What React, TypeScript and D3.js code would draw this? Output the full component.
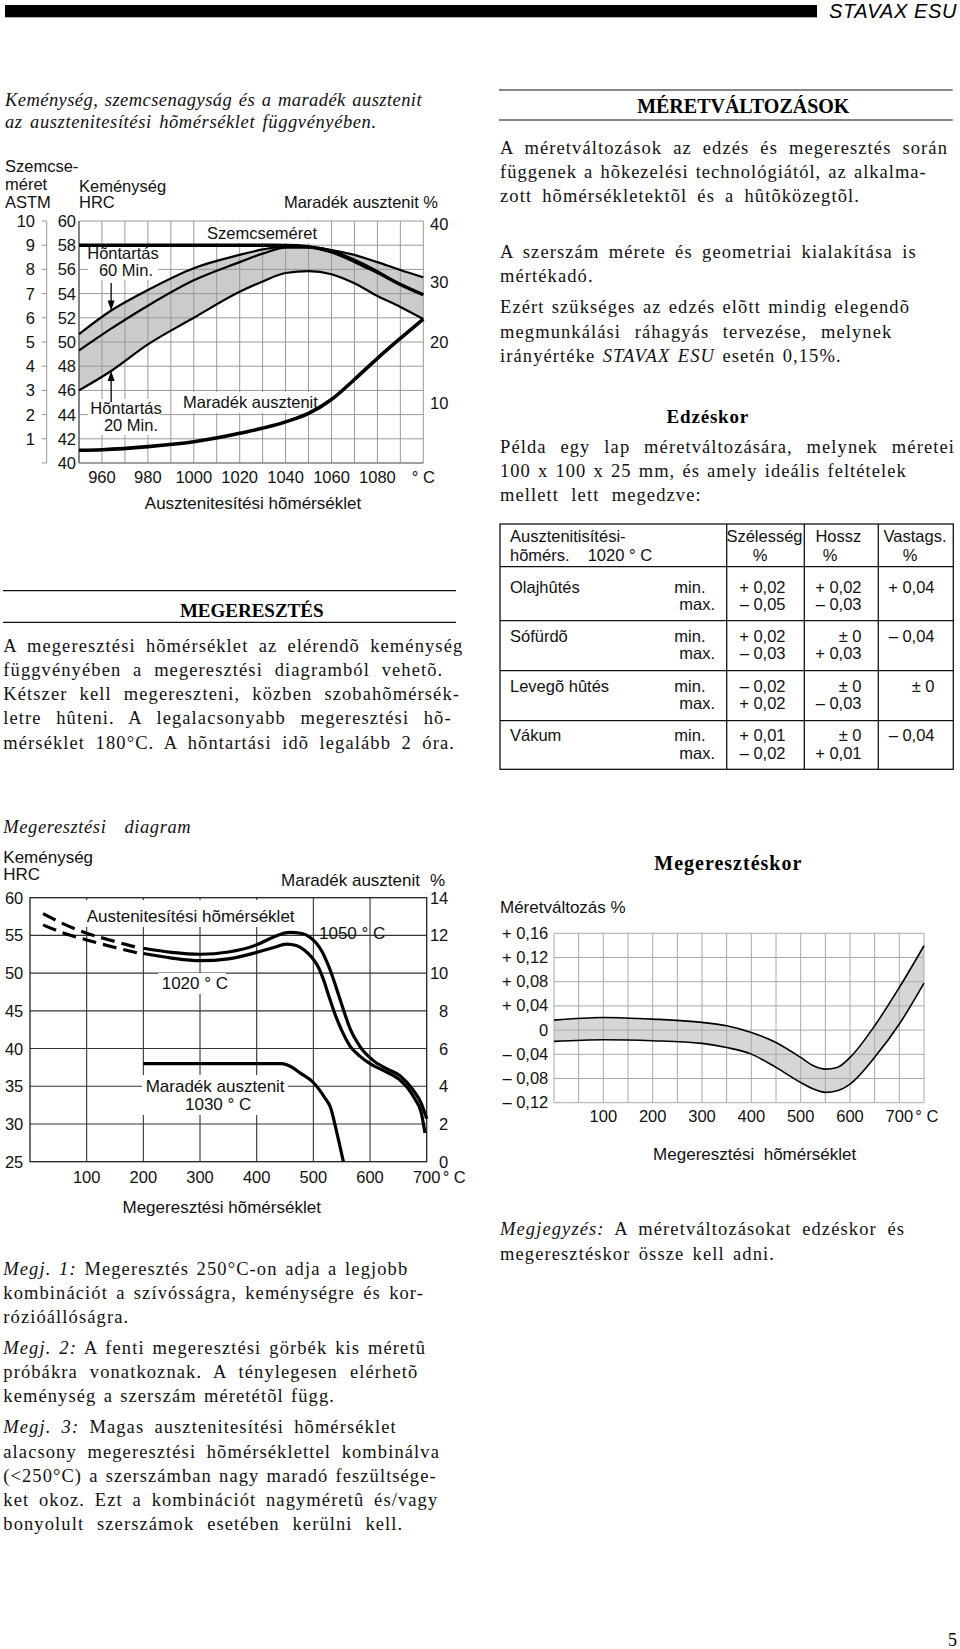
import React, { useLayoutEffect, useRef } from 'react';
import * as d3 from 'd3';

const SERIF = '"Liberation Serif", "Times New Roman", Times, serif';
const SANS = '"Liberation Sans", Arial, Helvetica, sans-serif';

// ---------- Chart 1: hardness / grain size / retained austenite vs austenitizing temp ----------
const austTempTicks = [960, 980, 1000, 1020, 1040, 1060, 1080];
const hrcTicks1 = [40, 42, 44, 46, 48, 50, 52, 54, 56, 58, 60];
const astmTicks = [0, 1, 2, 3, 4, 5, 6, 7, 8, 9, 10];
const raTicks1 = [10, 20, 30, 40];
const austTemps = [950, 964, 980, 1000, 1020, 1030, 1040, 1050, 1060, 1070, 1080, 1090, 1100];
const hrc60Min = [50.65, 52.6, 54.3, 56.1, 57.2, 57.65, 57.9, 57.85, 57.6, 57.2, 56.6, 55.95, 55.35];
const hrcMid = [49.3, 51.1, 53.0, 55.1, 56.6, 57.3, 57.8, 57.8, 57.4, 56.6, 55.7, 54.8, 53.9];
const hrc20Min = [46.0, 47.6, 49.8, 52.0, 54.15, 55.0, 55.7, 55.85, 55.6, 54.85, 53.8, 52.9, 51.9];
const grainTemps = [950, 1000, 1035, 1045, 1060, 1075, 1090, 1100];
const grainHRC = [58, 58, 58, 57.95, 57.5, 56.3, 54.75, 53.9];
const raTemps1 = [950, 960, 980, 1000, 1020, 1040, 1050, 1060, 1070, 1080, 1090, 1100];
const raPct1 = [2.1, 2.2, 2.7, 3.5, 4.9, 6.8, 8.2, 10.5, 13.8, 17.3, 20.6, 23.8];
const arrowTemp = 964;

// ---------- Chart 2: tempering diagram ----------
const temperTicks = [100, 200, 300, 400, 500, 600, 700];
const hrcTicks2 = [25, 30, 35, 40, 45, 50, 55, 60];
const raTicks2 = [0, 2, 4, 6, 8, 10, 12, 14];
const dashTemps = [23, 60, 100, 150, 194];
const dash1050 = [57.9, 56.5, 55.3, 54.2, 53.3];
const dash1020 = [56.4, 55.3, 54.4, 53.4, 52.6];
const temps1050 = [200, 250, 300, 350, 400, 430, 458, 480, 495, 505, 515, 525, 535, 545, 555, 565, 582, 606, 630, 653, 676, 690, 700];
const hrc1050 = [53.3, 52.75, 52.5, 52.8, 53.75, 54.8, 55.4, 55.25, 54.7, 54.0, 52.9, 51.3, 49.3, 47.0, 44.7, 42.6, 40.3, 38.4, 37.3, 36.4, 34.5, 32.8, 30.7];
const temps1020 = [200, 250, 300, 350, 400, 430, 453, 470, 485, 497, 508, 518, 528, 538, 550, 565, 582, 600, 623, 650, 665, 680, 690, 697];
const hrc1020 = [52.6, 52.0, 51.65, 51.9, 52.75, 53.4, 53.85, 53.65, 53.0, 52.1, 50.9, 49.1, 46.8, 44.6, 42.4, 40.3, 39.0, 38.0, 37.1, 36.0, 34.9, 33.2, 31.6, 28.8];
const raTemps1030 = [200, 300, 400, 444, 460, 477, 500, 520, 530, 541, 553];
const raPct1030 = [5.2, 5.2, 5.2, 5.2, 5.05, 4.7, 4.2, 3.4, 2.9, 1.6, 0];

// ---------- Chart 3: dimensional change on tempering ----------
const sizeTempTicks = [100, 200, 300, 400, 500, 600, 700];
const sizeTicks = [0.16, 0.12, 0.08, 0.04, 0, -0.04, -0.08, -0.12];
const sizeTickLabels = ['+ 0,16', '+ 0,12', '+ 0,08', '+ 0,04', '0', '– 0,04', '– 0,08', '– 0,12'];
const sizeTemps = [0, 100, 200, 300, 350, 400, 450, 500, 526, 550, 574, 600, 650, 700, 750];
const sizeMax = [0.0165, 0.0209, 0.0182, 0.0127, 0.0072, -0.0039, -0.0204, -0.0452, -0.059, -0.0645, -0.0617, -0.0452, 0.0072, 0.0705, 0.1394];
const sizeMin = [-0.0187, -0.016, -0.0176, -0.022, -0.0287, -0.0397, -0.0617, -0.0865, -0.0975, -0.103, -0.1003, -0.0893, -0.045, 0.01, 0.0777];

// ---------- Table ----------
const coolingMedia = ['Olajhûtés', 'Sófürdõ', 'Levegõ hûtés', 'Vákum'];
const widthMin = ['+ 0,02', '+ 0,02', '– 0,02', '+ 0,01'];
const widthMax = ['– 0,05', '– 0,03', '+ 0,02', '– 0,02'];
const lengthMin = ['+ 0,02', '± 0', '± 0', '± 0'];
const lengthMax = ['– 0,03', '+ 0,03', '– 0,03', '+ 0,01'];
const thicknessVal = ['+ 0,04', '– 0,04', '± 0', '– 0,04'];

const zip = (a: number[], b: number[]) => a.map((v, i) => [v, b[i]] as [number, number]);

// scales
const x1 = d3.scaleLinear().domain([950, 1100]).range([79, 423.3]);
const y1 = d3.scaleLinear().domain([40, 60]).range([463, 221]);
const r1 = d3.scaleLinear().domain([0, 40]).range([463, 221]);

const x2 = d3.scaleLinear().domain([0, 700]).range([30, 426.7]);
const y2 = d3.scaleLinear().domain([25, 60]).range([1161.7, 897.7]);
const r2 = d3.scaleLinear().domain([0, 14]).range([1161.7, 897.7]);

const x3 = d3.scaleLinear().domain([0, 750]).range([554, 924]);
const y3 = d3.scaleLinear().domain([-0.12, 0.16]).range([1102.7, 933.3]);

const BODY_LS = 1.1;

function J({ x, y, w, italic, children }: { x: number; y: number; w?: number; italic?: boolean; children: React.ReactNode }) {
  const ls = italic ? 0.6 : BODY_LS;
  return (
    <text x={x} y={y} data-w={w} data-ls={ls}
      style={{ fontFamily: SERIF, fontSize: 18.5, letterSpacing: ls, fontStyle: italic ? 'italic' : 'normal' }} fill="#111">
      {children}
    </text>
  );
}

function S({ x, y, anchor = 'start', size = 16.5, children }: { x: number; y: number; anchor?: string; size?: number; children: React.ReactNode }) {
  return (
    <text x={x} y={y} textAnchor={anchor as any} style={{ fontFamily: SANS, fontSize: size }} fill="#111">
      {children}
    </text>
  );
}

function Chart1() {
  const line = d3.line<[number, number]>().x(d => x1(d[0])).y(d => y1(d[1])).curve(d3.curveMonotoneX);
  const raLine = d3.line<[number, number]>().x(d => x1(d[0])).y(d => r1(d[1])).curve(d3.curveMonotoneX);
  const band = d3.area<number>()
    .x((_, i) => x1(austTemps[i]))
    .y0((_, i) => y1(hrc20Min[i]))
    .y1((_, i) => y1(hrc60Min[i]))
    .curve(d3.curveMonotoneX);
  const vGrid = d3.range(950, 1101, 10);
  const ax = x1(arrowTemp);
  const tipTop = y1(hrc60Min[austTemps.indexOf(arrowTemp)]);
  const tipBot = y1(hrc20Min[austTemps.indexOf(arrowTemp)]);
  return (
    <g>
      <path d={band(austTemps) || ''} fill="#cbcbcb" />
      {vGrid.map(t => (
        <line key={'v' + t} x1={x1(t)} x2={x1(t)} y1={y1(60)} y2={y1(40)} stroke="#999" strokeWidth={1} />
      ))}
      {hrcTicks1.map(h => (
        <line key={'h' + h} x1={x1(950)} x2={x1(1100)} y1={y1(h)} y2={y1(h)} stroke="#999" strokeWidth={1} />
      ))}
      <line x1={x1(950)} x2={x1(950)} y1={y1(60)} y2={y1(40)} stroke="#555" strokeWidth={1.2} />
      <line x1={x1(950)} x2={x1(1100)} y1={y1(40)} y2={y1(40)} stroke="#777" strokeWidth={1.2} />
      {/* label masks */}
      <rect x={208} y={222} width={108} height={21} fill="#fff" />
      <rect x={88} y={247} width={70} height={33} fill="#fff" />
      <rect x={88} y={399} width={72} height={36} fill="#fff" />
      <rect x={178} y={392} width={132} height={21} fill="#fff" />
      {/* ASTM axis */}
      <line x1={46.7} x2={46.7} y1={y1(60)} y2={y1(40)} stroke="#999" strokeWidth={1} />
      {astmTicks.map(a => (
        <line key={'a' + a} x1={41.5} x2={46.7} y1={y1(40 + 2 * a)} y2={y1(40 + 2 * a)} stroke="#999" strokeWidth={1} />
      ))}
      {astmTicks.filter(a => a > 0).map(a => (
        <S key={'al' + a} x={35} y={y1(40 + 2 * a) + 6} anchor="end">{a}</S>
      ))}
      {hrcTicks1.map(h => (
        <S key={'hl' + h} x={76} y={y1(h) + 6} anchor="end">{h}</S>
      ))}
      {raTicks1.map(r => (
        <S key={'rl' + r} x={430} y={r1(r) + (r === 40 ? 9 : 6)}>{r}</S>
      ))}
      {austTempTicks.map(t => (
        <S key={'xl' + t} x={x1(t)} y={483.3} anchor="middle">{t}</S>
      ))}
      <S x={x1(1100)} y={483.3} anchor="middle">° C</S>
      <S x={253} y={509} anchor="middle" size={17}>Ausztenitesítési hõmérséklet</S>

      {/* curves */}
      <path d={line(zip(austTemps, hrc20Min)) || ''} fill="none" stroke="#000" strokeWidth={2.2} />
      <path d={line(zip(austTemps, hrcMid)) || ''} fill="none" stroke="#000" strokeWidth={2.2} />
      <path d={line(zip(austTemps, hrc60Min)) || ''} fill="none" stroke="#000" strokeWidth={2.2} />
      <path d={line(zip(grainTemps, grainHRC)) || ''} fill="none" stroke="#000" strokeWidth={3.4} />
      <path d={raLine(zip(raTemps1, raPct1)) || ''} fill="none" stroke="#000" strokeWidth={3.6} />

      {/* arrows */}
      <line x1={ax} x2={ax} y1={283} y2={tipTop - 8} stroke="#000" strokeWidth={1.3} />
      <path d={`M${ax},${tipTop} L${ax - 3.5},${tipTop - 10} L${ax + 3.5},${tipTop - 10} Z`} fill="#000" />
      <line x1={ax} x2={ax} y1={402} y2={tipBot + 8} stroke="#000" strokeWidth={1.3} />
      <path d={`M${ax},${tipBot} L${ax - 3.5},${tipBot + 10} L${ax + 3.5},${tipBot + 10} Z`} fill="#000" />

      {/* labels */}
      <S x={5} y={171.7}>Szemcse-</S>
      <S x={5} y={190}>méret</S>
      <S x={5} y={208}>ASTM</S>
      <S x={79} y={191.7}>Keménység</S>
      <S x={79} y={208}>HRC</S>
      <S x={438} y={208} anchor="end">Maradék ausztenit %</S>
      <S x={262} y={239} anchor="middle">Szemcseméret</S>
      <S x={123} y={259.3} anchor="middle">Hõntartás</S>
      <S x={126} y={276} anchor="middle">60 Min.</S>
      <S x={126} y={414} anchor="middle">Hõntartás</S>
      <S x={131} y={430.5} anchor="middle">20 Min.</S>
      <S x={183} y={407.7}>Maradék ausztenit</S>
    </g>
  );
}

function Chart2() {
  const line = d3.line<[number, number]>().x(d => x2(d[0])).y(d => y2(d[1])).curve(d3.curveMonotoneX);
  const raLine = d3.line<[number, number]>().x(d => x2(d[0])).y(d => r2(d[1])).curve(d3.curveMonotoneX);
  return (
    <g>
      {temperTicks.slice(0, 6).map(t => (
        <line key={'v' + t} x1={x2(t)} x2={x2(t)} y1={y2(60)} y2={y2(25)} stroke="#333" strokeWidth={1.1} />
      ))}
      {hrcTicks2.slice(1, 7).map(h => (
        <line key={'h' + h} x1={x2(0)} x2={x2(700)} y1={y2(h)} y2={y2(h)} stroke="#333" strokeWidth={1.1} />
      ))}
      <rect x={x2(0)} y={y2(60)} width={x2(700) - x2(0)} height={y2(25) - y2(60)} fill="none" stroke="#222" strokeWidth={1.3} />
      <rect x={83} y={900} width={216} height={27} fill="#fff" />
      <rect x={158} y={973} width={68} height={21} fill="#fff" />
      <rect x={142} y={1075} width={146} height={40} fill="#fff" />

      {hrcTicks2.map(h => (
        <S key={'hl' + h} x={23.3} y={y2(h) + 6} anchor="end">{h}</S>
      ))}
      {raTicks2.map(r => (
        <S key={'rl' + r} x={448.3} y={r2(r) + 6} anchor="end">{r}</S>
      ))}
      {temperTicks.map(t => (
        <S key={'xl' + t} x={x2(t)} y={1183.3} anchor="middle">{t}</S>
      ))}
      <S x={x2(700) + 16} y={1183.3}>° C</S>
      <S x={221.7} y={1213.3} anchor="middle" size={17}>Megeresztési hõmérséklet</S>
      <S x={3.3} y={862.7} size={17}>Keménység</S>
      <S x={3.3} y={880} size={17}>HRC</S>
      <S x={420} y={886} anchor="end" size={17}>Maradék ausztenit</S>
      <S x={430} y={886} size={17}>%</S>

      <path d={line(zip(dashTemps, dash1050)) || ''} fill="none" stroke="#000" strokeWidth={3.2} strokeDasharray="14 7" />
      <path d={line(zip(dashTemps, dash1020)) || ''} fill="none" stroke="#000" strokeWidth={3.2} strokeDasharray="14 7" />
      <path d={line(zip(temps1050, hrc1050)) || ''} fill="none" stroke="#000" strokeWidth={3.2} />
      <path d={line(zip(temps1020, hrc1020)) || ''} fill="none" stroke="#000" strokeWidth={3.2} />
      <path d={raLine(zip(raTemps1030, raPct1030)) || ''} fill="none" stroke="#000" strokeWidth={3.2} />

      <S x={86.7} y={921.7} size={17}>Austenitesítési hõmérséklet</S>
      <S x={319} y={939.3} size={17}>1050 ° C</S>
      <S x={161.7} y={989.3} size={17}>1020 ° C</S>
      <S x={145.7} y={1091.7} size={17}>Maradék ausztenit</S>
      <S x={185} y={1110} size={17}>1030 ° C</S>
    </g>
  );
}

function Chart3() {
  const band = d3.area<number>()
    .x((_, i) => x3(sizeTemps[i]))
    .y0((_, i) => y3(sizeMin[i]))
    .y1((_, i) => y3(sizeMax[i]))
    .curve(d3.curveMonotoneX);
  const line = d3.line<[number, number]>().x(d => x3(d[0])).y(d => y3(d[1])).curve(d3.curveMonotoneX);
  const vGrid = d3.range(0, 751, 50);
  return (
    <g>
      <text x={728.3} y={870} textAnchor="middle" style={{ fontFamily: SERIF, fontSize: 20, fontWeight: 'bold', letterSpacing: 1 }}>Megeresztéskor</text>
      <S x={500} y={912.7} size={17}>Méretváltozás %</S>
      <path d={band(sizeTemps) || ''} fill="#d6d6d6" />
      {vGrid.map(t => (
        <line key={'v' + t} x1={x3(t)} x2={x3(t)} y1={y3(0.16)} y2={y3(-0.12)} stroke="#aaa" strokeWidth={1} />
      ))}
      {sizeTicks.map(v => (
        <line key={'h' + v} x1={x3(0)} x2={x3(750)} y1={y3(v)} y2={y3(v)} stroke="#aaa" strokeWidth={1} />
      ))}
      <path d={line(zip(sizeTemps, sizeMax)) || ''} fill="none" stroke="#000" strokeWidth={1.6} />
      <path d={line(zip(sizeTemps, sizeMin)) || ''} fill="none" stroke="#000" strokeWidth={1.6} />
      {sizeTicks.map((v, i) => (
        <S key={'yl' + i} x={548.3} y={y3(v) + 5.5} anchor="end" size={16.5}>{sizeTickLabels[i]}</S>
      ))}
      {sizeTempTicks.map(t => (
        <S key={'xl' + t} x={x3(t)} y={1121.7} anchor="middle">{t}</S>
      ))}
      <S x={x3(700) + 16} y={1121.7}>° C</S>
      <S x={754.7} y={1160} anchor="middle" size={17}>Megeresztési{'\u00a0\u00a0'}hõmérséklet</S>
    </g>
  );
}

function Table() {
  const colX = [500, 726.7, 804.3, 878.3, 953.3];
  const rowY = [524, 566.7, 620.7, 670.7, 720.7, 769.3];
  const base = [592.7, 641.7, 691.7, 741];
  const sz = 16.5;
  return (
    <g>
      <rect x={colX[0]} y={rowY[0]} width={colX[4] - colX[0]} height={rowY[5] - rowY[0]} fill="none" stroke="#111" strokeWidth={1.3} />
      {colX.slice(1, 4).map((x, i) => (
        <line key={'c' + i} x1={x} x2={x} y1={rowY[0]} y2={rowY[5]} stroke="#111" strokeWidth={1.3} />
      ))}
      {rowY.slice(1, 5).map((y, i) => (
        <line key={'r' + i} x1={colX[0]} x2={colX[4]} y1={y} y2={y} stroke="#111" strokeWidth={1.3} />
      ))}
      <S x={510} y={541.7} size={sz}>Ausztenitisítési-</S>
      <S x={510} y={561} size={sz}>hõmérs.</S>
      <S x={587.7} y={561} size={sz}>1020 ° C</S>
      <S x={764.5} y={541.7} anchor="middle" size={sz}>Szélesség</S>
      <S x={760} y={561} anchor="middle" size={sz}>%</S>
      <S x={838.3} y={541.7} anchor="middle" size={sz}>Hossz</S>
      <S x={830} y={561} anchor="middle" size={sz}>%</S>
      <S x={915} y={541.7} anchor="middle" size={sz}>Vastags.</S>
      <S x={910} y={561} anchor="middle" size={sz}>%</S>
      {coolingMedia.map((m, i) => (
        <g key={m}>
          <S x={510} y={base[i]} size={sz}>{m}</S>
          <S x={674.3} y={base[i]} size={sz}>min.</S>
          <S x={715} y={base[i] + 17.5} anchor="end" size={sz}>max.</S>
          <S x={785.5} y={base[i]} anchor="end" size={sz}>{widthMin[i]}</S>
          <S x={785.5} y={base[i] + 17.5} anchor="end" size={sz}>{widthMax[i]}</S>
          <S x={861.5} y={base[i]} anchor="end" size={sz}>{lengthMin[i]}</S>
          <S x={861.5} y={base[i] + 17.5} anchor="end" size={sz}>{lengthMax[i]}</S>
          <S x={934.5} y={base[i]} anchor="end" size={sz}>{thicknessVal[i]}</S>
        </g>
      ))}
    </g>
  );
}

export default function App() {
  const ref = useRef<SVGSVGElement>(null);
  useLayoutEffect(() => {
    const svg = ref.current;
    if (!svg) return;
    svg.querySelectorAll<SVGTextElement>('text[data-w]').forEach(el => {
      const target = parseFloat(el.getAttribute('data-w') || '0');
      const ls = parseFloat(el.getAttribute('data-ls') || '0');
      const txt = el.textContent || '';
      const n = (txt.match(/ /g) || []).length;
      el.style.wordSpacing = '0px';
      el.style.letterSpacing = `${ls}px`;
      const w = el.getComputedTextLength();
      if (!(n > 0 && target > 0)) return;
      let ws = (target - w) / n;
      const minWs = 1.5;
      if (ws < minWs) {
        const delta = (target - w - minWs * n) / txt.length;
        el.style.letterSpacing = `${ls + delta}px`;
        const w2 = el.getComputedTextLength();
        ws = (target - w2) / n;
      }
      el.style.wordSpacing = `${ws}px`;
    });
  }, []);

  const lh = 24.2;
  return (
    <svg ref={ref} width={960} height={1649} viewBox="0 0 960 1649"
      style={{ position: 'absolute', left: 0, top: 0, display: 'block', background: '#fff' }}>
      <rect x={0} y={0} width={960} height={1649} fill="#fff" />
      {/* header */}
      <rect x={5} y={5} width={812} height={12.3} fill="#000" />
      <text x={957} y={18} textAnchor="end" style={{ fontFamily: SANS, fontSize: 20, fontStyle: 'italic', letterSpacing: 0.6 }}>STAVAX ESU</text>

      {/* left title */}
      <J x={5} y={106} w={417} italic>Keménység, szemcsenagyság és a maradék ausztenit</J>
      <J x={5} y={128.3} w={371.7} italic>az ausztenitesítési hõmérséklet függvényében.</J>

      <Chart1 />

      {/* right column text */}
      <line x1={499} x2={952.7} y1={90} y2={90} stroke="#111" strokeWidth={1.2} />
      <text x={743.3} y={113.3} textAnchor="middle" style={{ fontFamily: SERIF, fontSize: 20, fontWeight: 'bold' }}>MÉRETVÁLTOZÁSOK</text>
      <line x1={499} x2={952.7} y1={120} y2={120} stroke="#111" strokeWidth={1.2} />
      <J x={500} y={154} w={448}>A méretváltozások az edzés és megeresztés során</J>
      <J x={500} y={154 + lh} w={426.7}>függenek a hõkezelési technológiától, az alkalma-</J>
      <J x={500} y={154 + 2 * lh} w={360}>zott hõmérsékletektõl és a hûtõközegtõl.</J>
      <J x={500} y={258.3} w={416.7}>A szerszám mérete és geometriai kialakítása is</J>
      <J x={500} y={258.3 + 23.4}>mértékadó.</J>
      <J x={500} y={313.3} w={410}>Ezért szükséges az edzés elõtt mindig elegendõ</J>
      <J x={500} y={313.3 + lh} w={392.3}>megmunkálási ráhagyás tervezése, melynek</J>
      <J x={500} y={313.3 + 2 * lh} w={341.7}>irányértéke <tspan fontStyle="italic">STAVAX ESU</tspan> esetén 0,15%.</J>

      <text x={707.8} y={423.3} textAnchor="middle" style={{ fontFamily: SERIF, fontSize: 19, fontWeight: 'bold', letterSpacing: 0.8 }}>Edzéskor</text>
      <J x={500} y={453.3} w={455}>Példa egy lap méretváltozására, melynek méretei</J>
      <J x={500} y={453.3 + 24} w={406.7}>100 x 100 x 25 mm, és amely ideális feltételek</J>
      <J x={500} y={453.3 + 48} w={201.7}>mellett lett megedzve:</J>

      <Table />

      {/* MEGERESZTÉS */}
      <line x1={3} x2={456} y1={590.7} y2={590.7} stroke="#111" strokeWidth={1.2} />
      <text x={251.7} y={616.7} textAnchor="middle" style={{ fontFamily: SERIF, fontSize: 19, fontWeight: 'bold' }}>MEGERESZTÉS</text>
      <line x1={3} x2={456} y1={622.3} y2={622.3} stroke="#111" strokeWidth={1.2} />
      <J x={3.3} y={651.7} w={460}>A megeresztési hõmérséklet az elérendõ keménység</J>
      <J x={3.3} y={651.7 + lh} w={440}>függvényében a megeresztési diagramból vehetõ.</J>
      <J x={3.3} y={651.7 + 2 * lh} w={456.7}>Kétszer kell megereszteni, közben szobahõmérsék-</J>
      <J x={3.3} y={651.7 + 3 * lh} w={448.4}>letre hûteni. A legalacsonyabb megeresztési hõ-</J>
      <J x={3.3} y={651.7 + 4 * lh} w={451.7}>mérséklet 180°C. A hõntartási idõ legalább 2 óra.</J>

      {/* tempering diagram */}
      <J x={3.3} y={833.3} w={188} italic>Megeresztési diagram</J>
      <Chart2 />

      {/* notes */}
      <J x={3.3} y={1275} w={405}><tspan fontStyle="italic">Megj. 1:</tspan> Megeresztés 250°C-on adja a legjobb</J>
      <J x={3.3} y={1275 + lh} w={420.7}>kombinációt a szívósságra, keménységre és kor-</J>
      <J x={3.3} y={1275 + 2 * lh}>rózióállóságra.</J>
      <J x={3.3} y={1354} w={422.7}><tspan fontStyle="italic">Megj. 2:</tspan> A fenti megeresztési görbék kis méretû</J>
      <J x={3.3} y={1354 + lh} w={415}>próbákra vonatkoznak. A ténylegesen elérhetõ</J>
      <J x={3.3} y={1354 + 2 * lh} w={331.7}>keménység a szerszám méretétõl függ.</J>
      <J x={3.3} y={1433.3} w={393.4}><tspan fontStyle="italic">Megj. 3:</tspan> Magas ausztenitesítési hõmérséklet</J>
      <J x={3.3} y={1433.3 + lh} w={436.7}>alacsony megeresztési hõmérséklettel kombinálva</J>
      <J x={3.3} y={1433.3 + 2 * lh} w={433.4}>(&lt;250°C) a szerszámban nagy maradó feszültsége-</J>
      <J x={3.3} y={1433.3 + 3 * lh} w={435}>ket okoz. Ezt a kombinációt nagyméretû és/vagy</J>
      <J x={3.3} y={1433.3 + 4 * lh} w={400}>bonyolult szerszámok esetében kerülni kell.</J>

      <Chart3 />

      <J x={500} y={1235} w={405}><tspan fontStyle="italic">Megjegyzés:</tspan> A méretváltozásokat edzéskor és</J>
      <J x={500} y={1260} w={275}>megeresztéskor össze kell adni.</J>

      <text x={957} y={1646} textAnchor="end" style={{ fontFamily: SERIF, fontSize: 18 }}>5</text>
    </svg>
  );
}
